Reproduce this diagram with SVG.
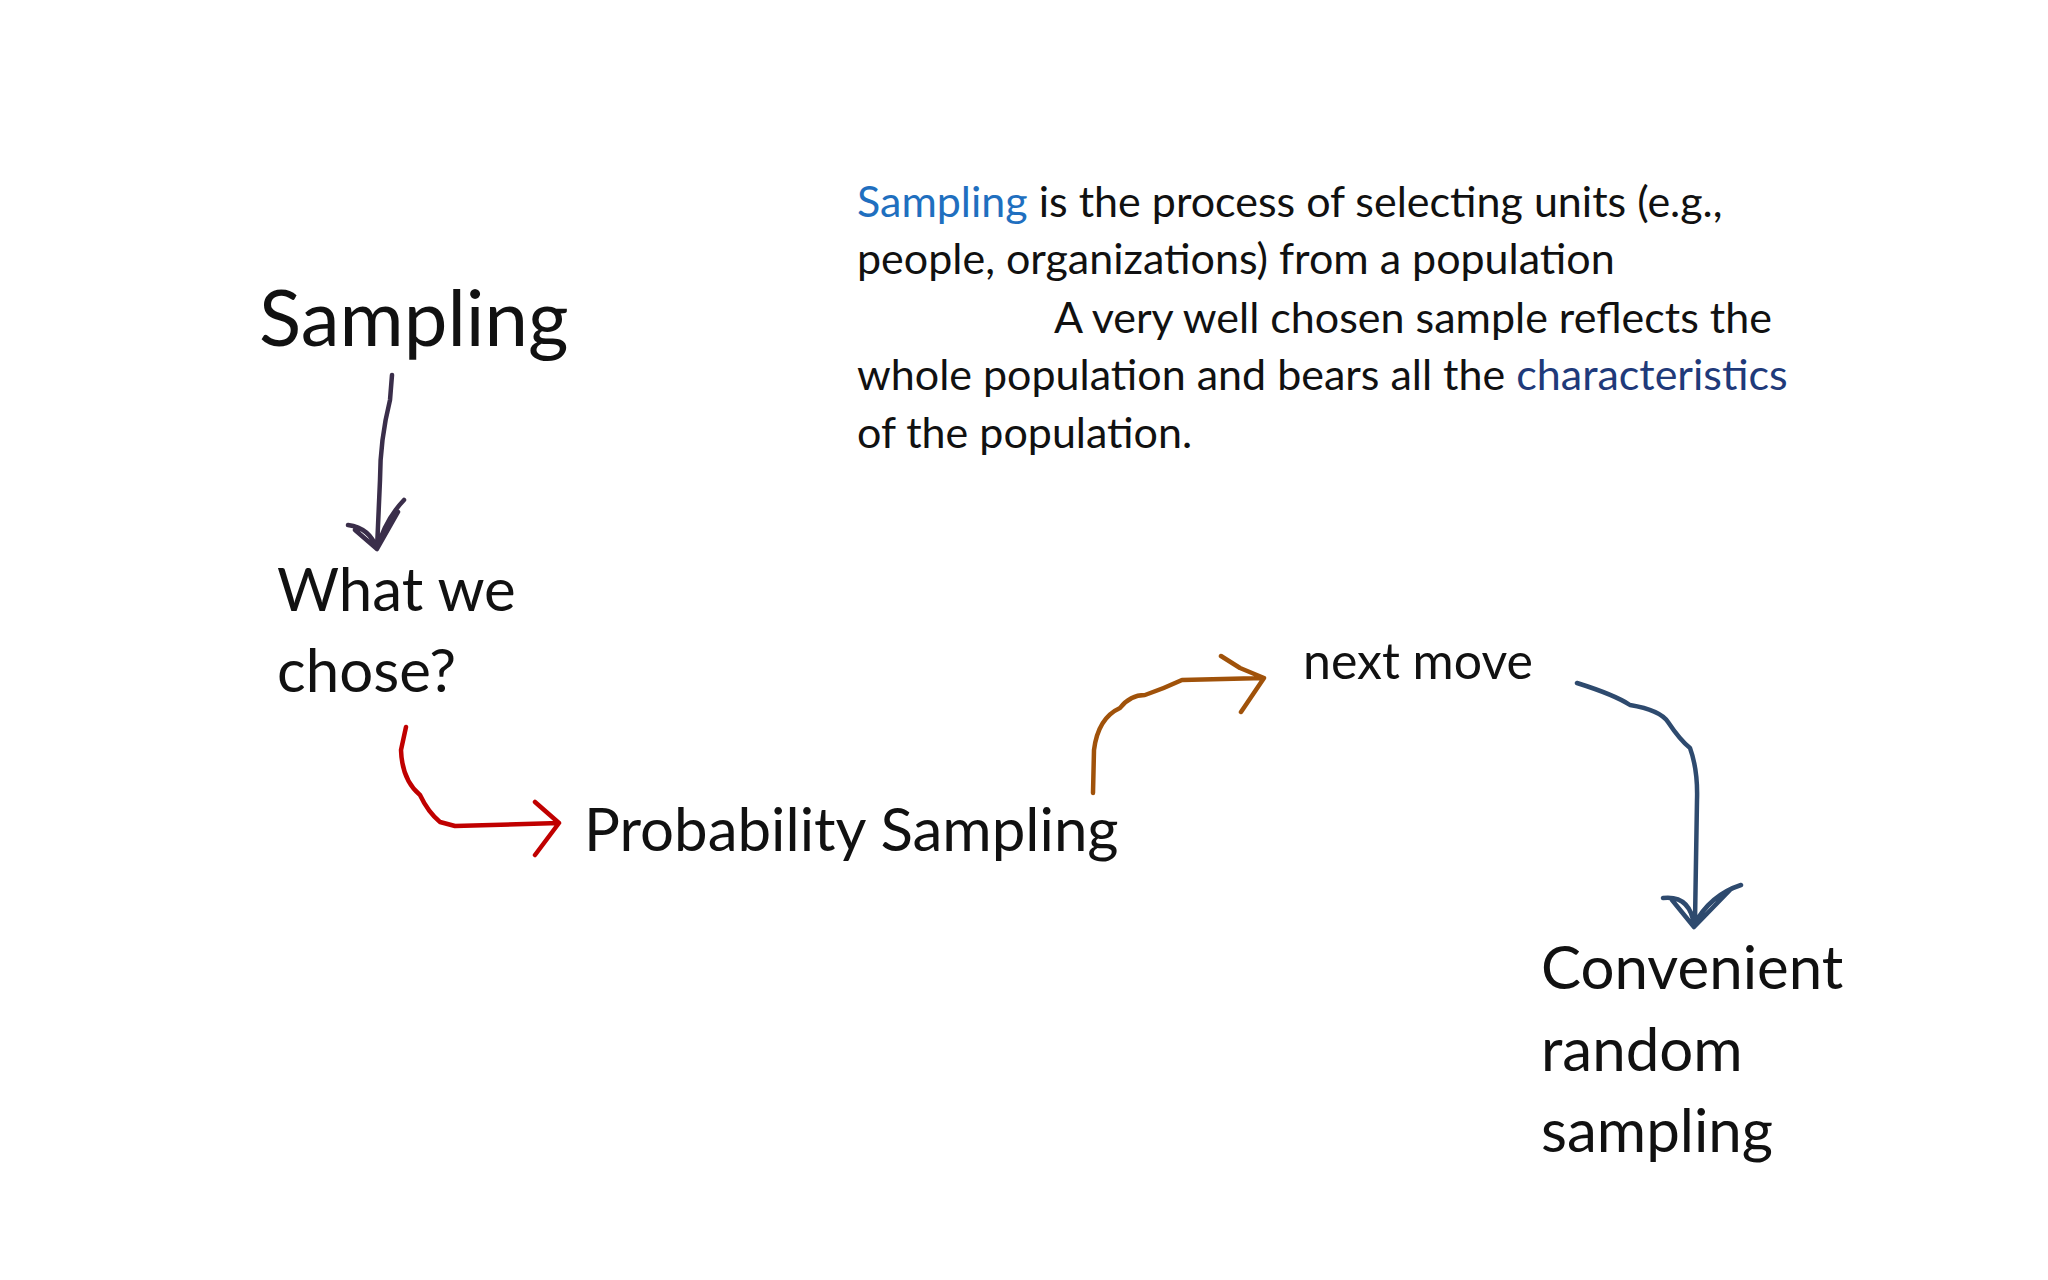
<svg xmlns="http://www.w3.org/2000/svg" width="2048" height="1280" viewBox="0 0 2048 1280">
<style>
text{font-family:Lato,"Open Sans","Liberation Sans",sans-serif;fill:#111}
.c{fill:none;stroke-width:4.5;stroke-linecap:round;stroke-linejoin:round}
.p{font-size:43px}
</style>
<rect width="2048" height="1280" fill="#fff"/>
<g id="title"><text x="259" y="346" font-size="78">Sampling</text></g>
<g id="definition" class="p">
<text x="857" y="217"><tspan fill="#1f6fbf">Sampling</tspan> is the process of selecting units (e.g.,</text>
<text x="857" y="274">people, organizations) from a population</text>
<text x="1054" y="333">A very well chosen sample reflects the</text>
<text x="857" y="390">whole population and bears all the <tspan fill="#1f3a7a">characteristics</tspan></text>
<text x="857" y="448">of the population.</text>
</g>
<g id="what"><text x="277" y="611" font-size="60">What we</text><text x="277" y="692" font-size="60">chose?</text></g>
<g id="prob"><text x="584" y="851" font-size="60">Probability Sampling</text></g>
<g id="next"><text x="1303" y="679" font-size="50">next move</text></g>
<g id="conv"><text x="1541" y="989" font-size="60">Convenient</text><text x="1541" y="1071" font-size="60">random</text><text x="1541" y="1152" font-size="60">sampling</text></g>
<g id="connectors">
<path class="c" stroke="#3a2e4a" d="M392 375 L390 400 Q380 440 380 480 L377 549 M348 525 Q370 528 377 549 Q385 520 404 500 M355 530 L377 549 L398 512"/>
<path class="c" stroke="#c00000" d="M406 727 L401 750 Q402 780 420 795 Q428 812 440 822 L455 826 L559 823 M535 802 L559 823 L535 855"/>
<path class="c" stroke="#a0520a" d="M1093 793 L1094 750 Q1098 718 1120 708 Q1130 695 1145 695 Q1165 688 1182 680 L1264 678 M1221 656 L1240 668 L1264 678 L1241 712"/>
<path class="c" stroke="#2e4a6e" d="M1577 683 Q1615 695 1630 705 Q1660 710 1668 722 Q1680 740 1690 748 Q1698 770 1697 800 L1695 921 M1663 898 Q1690 895 1694 925 Q1710 895 1741 885 M1672 900 L1694 927 L1730 890"/>
</g>
</svg>
